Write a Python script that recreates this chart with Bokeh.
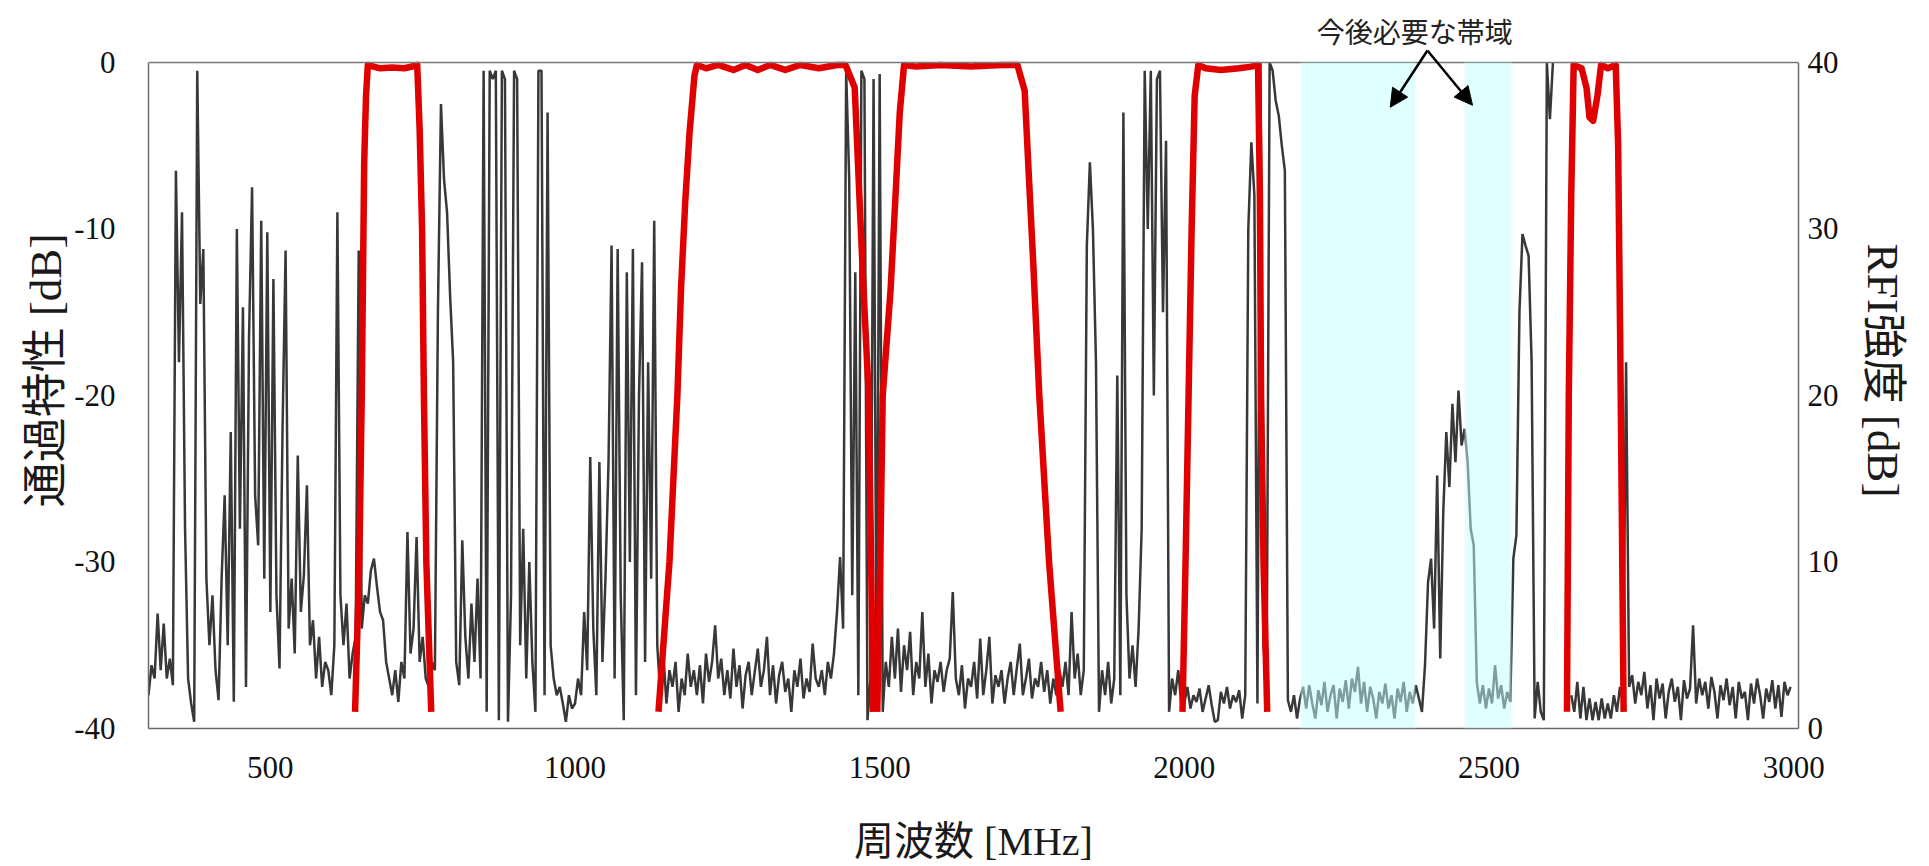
import math
from bokeh.plotting import figure
from bokeh.models import Range1d, LinearAxis, FixedTicker, BoxAnnotation, Arrow, NormalHead, Label, Span
from bokeh.embed import file_html
from bokeh.resources import INLINE

NAN = float("nan")  # trace above the top of the scale (not drawn)

# ---------------- data ----------------
rfi_freq = list(range(300, 3000, 5))  # MHz
rfi_db = [
    2.0, 3.8, 3.0, 6.9, 3.5, 6.3, 3.0, 4.2, 2.6, 33.5, 22.0, 31.0, 12.0, 3.0, 1.5, 0.4, 39.5, 25.5, 28.8, 9.0,
    5.0, 8.0, 3.5, 1.7, 9.0, 14.0, 5.0, 17.8, 1.6, 30.0, 12.0, 25.3, 2.5, 23.5, 32.5, 14.0, 11.0, 30.5, 9.0, 29.8,
    7.0, 27.0, 8.0, 3.6, 18.0, 28.7, 6.0, 9.0, 4.5, 16.4, 7.0, 9.2, 14.6, 5.0, 6.5, 3.0, 5.5, 2.5, 4.0, 3.5,
    2.0, 5.0, 31.0, 8.0, 5.0, 7.5, 3.0, 4.5, 5.5, 28.7, 6.0, 8.0, 7.5, 9.5, 10.2, 8.5, 7.0, 6.5, 4.0, 3.0,
    2.0, 3.5, 1.6, 4.0, 3.0, 11.8, 4.5, 6.0, 11.5, 4.0, 5.5, 3.0, 2.5, 4.0, 3.5, 25.0, 37.5, 33.0, 31.0, 26.0,
    22.0, 4.0, 2.6, 11.3, 5.5, 3.0, 7.5, 4.0, 9.0, 3.0, 39.5, 1.0, 39.5, 39.0, 39.5, 0.5, 39.5, 39.0, 0.4, 8.0,
    39.5, 39.0, 5.0, 12.0, 3.0, 10.0, 4.0, 1.0, 39.5, 39.5, 2.0, 37.0, 5.0, 3.0, 2.0, 2.5, 1.5, 0.4, 2.0, 1.2,
    1.5, 3.0, 2.0, 7.0, 3.5, 16.3, 6.0, 2.0, 16.0, 4.0, 9.0, 16.0, 29.0, 3.0, 28.8, 8.0, 0.5, 27.4, 10.0, 28.8,
    2.0, 20.0, 28.0, 4.0, 22.0, 9.0, 30.5, 5.0, 2.0, 4.5, 1.5, 3.5, 2.5, 4.0, 1.0, 3.0, 2.0, 4.5, 2.5, 3.5,
    2.0, 3.8, 1.5, 4.5, 2.8, 4.0, 6.2, 3.0, 4.2, 2.0, 3.5, 1.8, 4.8, 2.5, 3.8, 1.2, 3.2, 4.0, 2.0, 3.4,
    4.8, 2.5, 3.5, 5.5, 2.0, 3.8, 1.5, 3.2, 4.0, 2.2, 3.0, 1.0, 3.5, 2.5, 4.2, 1.8, 3.0, 2.2, 5.1, 3.0,
    2.5, 3.5, 2.0, 4.0, 3.0, 4.5, 7.0, 10.3, 6.0, 39.5, 33.0, 8.0, 27.4, 2.0, 39.5, 39.0, 0.5, 3.0, 39.0, 2.0,
    39.3, 1.0, 4.0, 2.5, 5.5, 3.0, 6.0, 2.2, 5.0, 3.5, 5.8, 2.0, 4.0, 3.0, 7.0, 2.5, 4.5, 1.5, 3.5, 2.8,
    4.0, 2.2, 3.5, 4.2, 8.2, 3.0, 2.0, 3.8, 1.2, 3.0, 2.5, 4.0, 1.8, 5.4, 2.0, 3.5, 5.5, 1.5, 3.2, 2.5,
    3.5, 1.5, 3.0, 4.0, 2.0, 3.6, 5.1, 2.0, 3.0, 4.2, 1.8, 3.0, 2.5, 4.0, 2.2, 3.5, 1.5, 3.0, 2.0, 3.5,
    2.5, 4.0, 2.0, 7.0, 3.0, 4.5, 2.0, 3.5, 29.0, 34.0, 30.0, 22.0, 1.0, 3.5, 2.0, 4.0, 1.5, 3.0, 21.2, 2.0,
    37.0, 8.0, 3.0, 5.0, 2.5, 6.0, 12.0, 39.5, 30.0, 39.5, 20.0, 39.0, 39.5, 25.0, 35.3, 1.0, 3.0, 2.0, 3.5, 1.5,
    1.5, 2.5, 1.2, 2.0, 1.6, 2.4, 1.0, 1.8, 2.6, 1.4, 0.4, 0.5, 2.2, 1.5, 2.5, 1.2, 2.0, 1.6, 2.3, 0.6,
    2.0, 30.0, 35.2, 32.0, 1.5, 40.0, 5.0, 2.0, 40.0, 39.5, 37.7, 36.8, 35.0, 33.5, 1.7, 1.0, 2.0, 0.6, 1.8, 2.5,
    1.2, 2.6, 1.5, 0.6, 2.3, 1.4, 2.8, 1.0, 2.0, 2.6, 0.6, 2.4, 1.6, 2.9, 1.2, 3.0, 2.2, 3.7, 1.5, 2.8,
    1.0, 2.5, 1.8, 0.6, 2.2, 1.5, 2.7, 1.2, 2.0, 0.6, 2.4, 1.6, 2.8, 1.0, 2.2, 1.5, 2.6, 1.8, 1.0, 3.8,
    8.8, 10.2, 6.0, 15.2, 4.2, 13.0, 17.8, 14.5, 19.5, 16.0, 20.3, 17.0, 18.0, 16.0, 12.0, 11.0, 2.8, 1.5, 2.6, 1.2,
    2.4, 1.5, 3.8, 1.8, 2.6, 1.2, 2.2, 1.6, 10.2, 11.6, 25.0, 29.7, 29.0, 28.4, 22.0, 0.6, 2.8, 1.0, 0.5, 40.0,
    36.6, 40.0, NAN, NAN, NAN, NAN, NAN, 2.0, 1.0, 2.8, 0.6, 2.5, 0.5, 1.8, 0.5, 1.6, 0.5, 1.8, 0.6, 1.5,
    0.6, 2.0, 1.0, 2.5, 1.5, 22.0, 2.5, 3.2, 1.5, 2.8, 2.0, 3.4, 1.2, 2.6, 0.5, 3.0, 1.8, 2.7, 0.6, 2.2,
    3.0, 1.6, 2.5, 0.5, 2.9, 1.8, 2.4, 6.2, 1.5, 3.0, 2.0, 2.8, 1.2, 3.1, 2.2, 0.6, 2.6, 1.7, 3.0, 1.4,
    2.5, 0.6, 2.8, 1.8, 2.2, 0.5, 2.7, 1.5, 3.0, 2.0, 0.6, 2.4, 1.6, 2.9, 1.2, 2.6, 0.7, 2.8, 2.0, 2.5,
]
assert len(rfi_freq) == len(rfi_db)

filter1_f = [639, 646, 650, 654, 657, 660, 665, 680, 700, 720, 738, 741, 745, 749, 752, 756, 764]
filter1_db = [-39, -30, -20, -6, -2, -0.15, -0.2, -0.35, -0.3, -0.35, -0.2, -0.15, -4, -10, -20, -30, -39]

filter2_f = [1137, 1155, 1168, 1174, 1181, 1188, 1196, 1200, 1215, 1235, 1260, 1280, 1300, 1320,
             1345, 1370, 1400, 1430, 1444, 1459, 1467, 1474, 1482, 1486, 1489]
filter2_db = [-39, -30, -20, -13.6, -8.3, -4.2, -0.8, -0.15, -0.35, -0.15, -0.45, -0.15, -0.45, -0.15,
              -0.45, -0.15, -0.35, -0.15, -0.15, -1.5, -8.3, -14, -20, -30, -39]

filter3_f = [1496, 1501, 1505, 1518, 1525, 1533, 1540, 1560, 1600, 1650, 1700, 1726, 1738, 1744,
             1752, 1762, 1778, 1797]
filter3_db = [-39, -30, -20, -13.6, -8.7, -3, -0.15, -0.25, -0.15, -0.25, -0.15, -0.15, -1.7, -6.2,
              -12, -20, -30, -39]

filter4_f = [1997, 2002, 2007, 2012, 2017, 2023, 2035, 2060, 2090, 2110, 2121, 2124, 2126, 2130, 2136]
filter4_db = [-39, -30, -20, -10, -2, -0.15, -0.35, -0.45, -0.35, -0.25, -0.15, -8, -20, -30, -39]

filter5_f = [2628, 2631, 2635, 2639, 2645, 2652, 2660, 2665, 2671, 2678, 2684, 2695, 2708, 2712, 2716, 2721]
filter5_db = [-39, -20, -8, -0.15, -0.25, -0.35, -1.5, -3.3, -3.5, -2, -0.15, -0.35, -0.15, -5, -19, -39]

filters = [(filter1_f, filter1_db), (filter2_f, filter2_db), (filter3_f, filter3_db),
           (filter4_f, filter4_db), (filter5_f, filter5_db)]

future_bands = [(2191, 2379), (2460, 2537)]
note_text = "今後必要な帯域"
note_pos = (2378, 1.86)
arrow_start = (2399, 0.72)
arrow_ends = [(2338, -2.69), (2473, -2.57)]

x_ticks = [500, 1000, 1500, 2000, 2500, 3000]
left_ticks = [-40, -30, -20, -10, 0]
right_ticks = [0, 10, 20, 30, 40]

X_LO, X_HI = 300, 3008
Y_LO, Y_TOP = -40, 0          # left scale (pass characteristic)
R_LO, R_TOP = 0, 40           # right scale (RFI level)
HEADROOM = 3.0                # dB of space above the plot box for the note

# ---------------- figure ----------------
p = figure(width=1929, height=866, x_range=Range1d(X_LO, X_HI),
           y_range=Range1d(Y_LO, Y_TOP + HEADROOM),
           output_backend="svg", toolbar_location=None,
           min_border_left=148, min_border_right=131, min_border_top=12, min_border_bottom=136)
p.extra_y_ranges = {"rfi": Range1d(R_LO, R_TOP + HEADROOM)}
p.grid.visible = False
p.outline_line_color = None
p.background_fill_color = "white"
p.border_fill_color = "white"

tick_font = "Liberation Serif, Noto Sans CJK JP, serif"
title_font = "Liberation Serif, Noto Sans CJK JP"


def style_axis(ax, ticks, label, standoff, label_standoff, title_size):
    ax.ticker = FixedTicker(ticks=ticks)
    ax.major_label_overrides = {t: str(t) for t in ticks}
    ax.axis_label = label
    ax.axis_label_text_font = title_font
    ax.axis_label_text_font_size = title_size
    ax.axis_label_text_font_style = "normal"
    ax.axis_label_text_color = "#1a1a1a"
    ax.axis_label_standoff = label_standoff
    ax.major_label_text_font = tick_font
    ax.major_label_text_font_size = "31px"
    ax.major_label_text_color = "#111111"
    ax.major_label_standoff = standoff
    ax.major_tick_out = 0
    ax.major_tick_in = 0
    ax.minor_tick_out = 0
    ax.minor_tick_in = 0
    ax.major_tick_line_color = None
    ax.minor_tick_line_color = None
    ax.axis_line_color = "#6a6a6a"
    ax.axis_line_width = 1.5


style_axis(p.xaxis[0], x_ticks, "周波数 [MHz]", 28, 38, "40px")
style_axis(p.yaxis[0], left_ticks, "通過特性 [dB]", 33, 0, "45px")
p.yaxis[0].bounds = (Y_LO, Y_TOP)

right_axis = LinearAxis(y_range_name="rfi")
style_axis(right_axis, right_ticks, "RFI強度 [dB]", 9, 16, "45px")
right_axis.bounds = (R_LO, R_TOP)
p.add_layout(right_axis, "right")

# top edge of the plot box
p.add_layout(Span(location=Y_TOP, dimension="width", line_color="#7a7a7a", line_width=1.5))

# RFI spectrum (right axis)
p.line(rfi_freq, rfi_db, y_range_name="rfi", line_color="#383838", line_width=2.5)

# filter pass characteristics (left axis)
for ff, dd in filters:
    p.line(ff, dd, line_color="#E00000", line_width=6.5, line_join="round")

# future bands
for a, b in future_bands:
    p.add_layout(BoxAnnotation(left=a, right=b, bottom=Y_LO, top=Y_TOP, fill_color="#C2FFFF",
                               fill_alpha=0.51, line_color=None))

# note + arrows
for xe, ye in arrow_ends:
    p.add_layout(Arrow(end=NormalHead(size=18, fill_color="black", line_color="black"),
                       x_start=arrow_start[0], y_start=arrow_start[1], x_end=xe, y_end=ye,
                       line_color="black", line_width=2.5))
p.add_layout(Label(x=note_pos[0], y=note_pos[1], text=note_text, text_font="Noto Sans CJK JP",
                   text_font_size="28px", text_align="center", text_baseline="middle",
                   text_color="#222222"))

open("out.html", "w").write(file_html(p, INLINE))
